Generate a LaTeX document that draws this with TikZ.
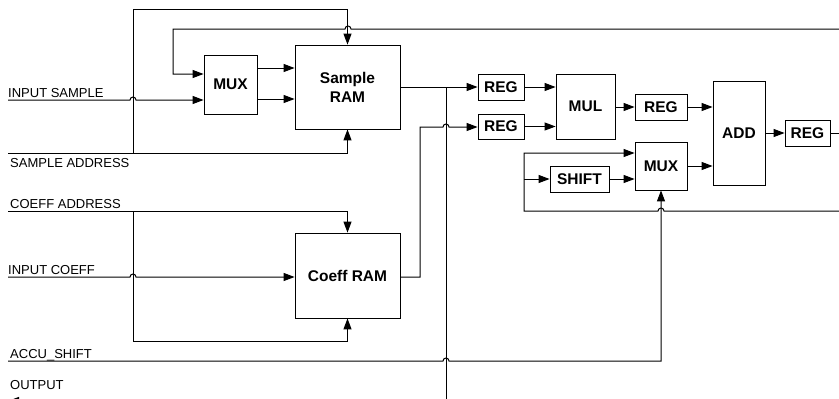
\documentclass[tikz,border=0pt]{standalone}
\usepackage{fontspec}
\setmainfont{Liberation Sans}
\usetikzlibrary{arrows.meta, positioning}

\begin{document}
\begin{tikzpicture}[x=1pt, y=-1pt,
    block/.style={rectangle, draw, line width=0.8pt, inner sep=0pt, align=center,
        font=\fontsize{15.5}{19}\selectfont\bfseries},
    sig/.style={inner sep=0pt, anchor=base west, font=\fontsize{13}{15}\selectfont},
    wire/.style={line width=1pt},
    arrow/.style={wire, -{Triangle[length=11pt, width=8pt]}}]

    \useasboundingbox (0,0) rectangle (839,399);
    \clip (0,0) rectangle (839,399);

    % blocks
    \node[block, minimum width=53, minimum height=59] (mux) at (230.5,84.5) {MUX};
    \node[block, minimum width=105, minimum height=84] (sram) at (347.5,87) {Sample\\RAM};
    \node[block, minimum width=105, minimum height=85] (cram) at (347.5,275.5) {Coeff RAM};
    \node[block, minimum width=46, minimum height=26] (reg1) at (501,87) {REG};
    \node[block, minimum width=46, minimum height=25] (reg2) at (501,126.5) {REG};
    \node[block, minimum width=59, minimum height=65] (mul) at (585.5,106.5) {MUL};
    \node[block, minimum width=52, minimum height=26] (reg3) at (661,107) {REG};
    \node[block, minimum width=52, minimum height=104] (add) at (739,133) {ADD};
    \node[block, minimum width=45, minimum height=26] (reg4) at (807.5,133) {REG};
    \node[block, minimum width=52, minimum height=48] (mux2) at (661,166) {MUX};
    \node[block, minimum width=59, minimum height=26] (shift) at (579.5,179) {SHIFT};

    % signal names
    \node[sig] (lblinsample) at (8,97) {INPUT SAMPLE};
    \node[sig] (lblsampleaddr) at (10,167) {SAMPLE ADDRESS};
    \node[sig] (lblcoeffaddr) at (10,208) {COEFF ADDRESS};
    \node[sig] (lblincoeff) at (8,274) {INPUT COEFF};
    \node[sig] (lblaccushift) at (10,358) {ACCU\_SHIFT};
    \node[sig] (lbloutput) at (10,389) {OUTPUT};

    % wire ends and branch points
    \coordinate (insample) at (8,100);
    \coordinate (sampleaddr) at (8,153);
    \coordinate (coeffaddr) at (8,211);
    \coordinate (incoeff) at (8,277);
    \coordinate (accushift) at (8,361);
    \coordinate (output) at (8,401);
    \coordinate (loopin) at (839,29);
    \coordinate (accuin) at (839,211);
    \coordinate (result) at (839,133);
    \coordinate (saddrbr) at (133,153);
    \coordinate (caddrbr) at (133,211);
    \coordinate (sramout) at (446,87);
    \coordinate (loopbr) at (524,179);

    % sample side
    \draw[arrow] (sampleaddr) -| (sram.south);
    \draw[arrow] (saddrbr) -- (133,9.5) -| (sram.north);
    \draw[arrow] (loopin) -- (351,29) arc[start angle=0, end angle=180, radius=3pt]
        -- (173,29) |- (mux.west |- 0,74);
    \draw[arrow] (insample) -- (130,100) arc[start angle=180, end angle=0, radius=3pt]
        -- (mux.west |- 0,100);
    \draw[arrow] (mux.east |- 0,68) -- (sram.west |- 0,68);
    \draw[arrow] (mux.east |- 0,99) -- (sram.west |- 0,99);
    \draw[arrow] (sram.east) -- (reg1.west);
    \draw[arrow] (sramout) -- (446,401) -- (output);

    % coeff side
    \draw[arrow] (coeffaddr) -| (cram.north);
    \draw[arrow] (caddrbr) -- (133,341) -| (cram.south);
    \draw[arrow] (incoeff) -- (130,277) arc[start angle=180, end angle=0, radius=3pt]
        -- (cram.west |- 0,277);
    \draw[arrow] (cram.east |- 0,277) -- (420,277) -- (420,127)
        -- (443,127) arc[start angle=180, end angle=0, radius=3pt] -- (reg2.west |- 0,127);

    % datapath
    \draw[arrow] (reg1.east) -- (mul.west |- reg1.east);
    \draw[arrow] (reg2.east) -- (mul.west |- reg2.east);
    \draw[arrow] (mul.east |- reg3.west) -- (reg3.west);
    \draw[arrow] (reg3.east) -- (add.west |- reg3.east);
    \draw[arrow] (mux2.east) -- (add.west |- mux2.east);
    \draw[arrow] (add.east) -- (reg4.west);
    \draw[wire] (reg4.east) -- (result);
    \draw[arrow] (shift.east) -- (mux2.west |- shift.east);
    \draw[arrow] (accuin) -- (664,211) arc[start angle=0, end angle=180, radius=3pt]
        -- (524,211) |- (mux2.west |- 0,153);
    \draw[arrow] (loopbr) -- (shift.west);
    \draw[arrow] (accushift) -- (443,361) arc[start angle=180, end angle=0, radius=3pt]
        -- (661,361) -- (mux2.south);
\end{tikzpicture}
\end{document}
